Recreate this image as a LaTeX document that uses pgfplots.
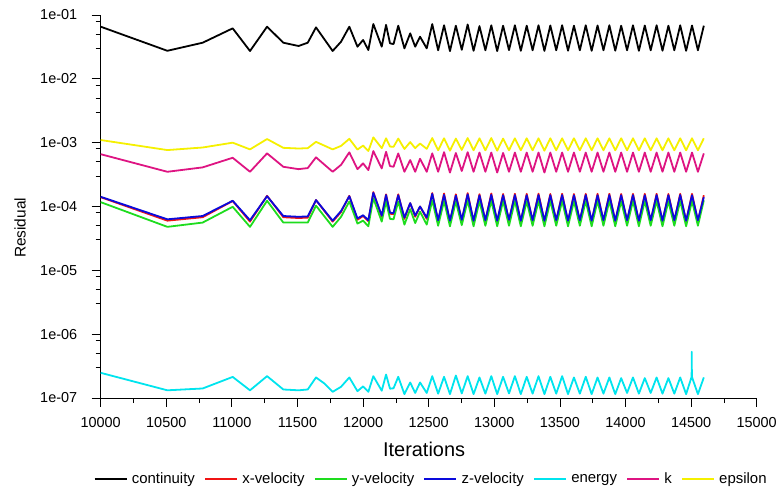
\documentclass[border=0pt]{standalone}
\usepackage{pgfplots}
\pgfplotsset{compat=1.18}
\usepackage{pgfplotstable}
\usepackage{fontspec}
\setmainfont{Liberation Sans}
\definecolor{cRed}{RGB}{240,20,20}
\definecolor{cGreen}{RGB}{30,220,30}
\definecolor{cBlue}{RGB}{10,10,220}
\definecolor{cCyan}{RGB}{0,228,238}
\definecolor{cMag}{RGB}{222,20,130}
\definecolor{cYel}{RGB}{245,240,0}

\pgfplotstableread{
it cont xvel yvel zvel kk eps
10000 0.0656 1.40e-4 1.17e-4 1.42e-4 6.6e-4 1.10e-3
10508 0.0275 6.0e-5 4.8e-5 6.3e-5 3.5e-4 7.66e-4
10777 0.0368 6.8e-5 5.6e-5 7.1e-5 4.1e-4 8.4e-4
11006 0.0618 1.22e-4 9.9e-5 1.23e-4 5.8e-4 1.0e-3
11138 0.0273 5.8e-5 4.8e-5 6.1e-5 3.5e-4 7.85e-4
11268 0.0656 1.47e-4 1.23e-4 1.45e-4 6.8e-4 1.14e-3
11392 0.0368 6.8e-5 5.6e-5 7.1e-5 4.19e-4 8.3e-4
11508 0.0327 6.6e-5 5.6e-5 6.9e-5 3.85e-4 8.1e-4
11578 0.0368 6.7e-5 5.6e-5 7.0e-5 4.0e-4 8.2e-4
11641 0.0640 1.26e-4 1.03e-4 1.26e-4 5.89e-4 1.03e-3
11768 0.0273 5.8e-5 4.8e-5 6.0e-5 3.5e-4 7.85e-4
11832 0.0382 8.2e-5 6.9e-5 8.5e-5 4.5e-4 8.9e-4
11895 0.0656 1.47e-4 1.2e-4 1.45e-4 7.05e-4 1.15e-3
11957 0.0319 6.2e-5 5.4e-5 6.5e-5 3.85e-4 7.8e-4
12000 0.0406 7.1e-5 6.0e-5 7.3e-5 4.74e-4 9.0e-4
12040 0.0283 5.9e-5 4.9e-5 6.1e-5 3.72e-4 7.4e-4
12078 0.0723 1.68e-4 1.35e-4 1.64e-4 7.38e-4 1.21e-3
12142 0.0319 6.9e-5 5.8e-5 7.2e-5 3.95e-4 8.2e-4
12175 0.0700 1.55e-4 1.2e-4 1.51e-4 7.2e-4 1.17e-3
12205 0.0360 7.7e-5 6.4e-5 8.0e-5 4.3e-4 8.7e-4
12232 0.0350 7.6e-5 6.3e-5 7.9e-5 4.19e-4 8.6e-4
12268 0.0680 1.55e-4 1.2e-4 1.5e-4 6.79e-4 1.16e-3
12315 0.0300 6.4e-5 5.2e-5 6.7e-5 3.5e-4 7.97e-4
12359 0.0516 1.13e-4 9.1e-5 1.13e-4 5.34e-4 1.02e-3
12397 0.0319 6.9e-5 5.5e-5 7.2e-5 3.5e-4 8.2e-4
12434 0.0457 1.0e-4 8.3e-5 1.0e-4 5.6e-4 9.7e-4
12485 0.0300 6.4e-5 5.2e-5 6.7e-5 3.5e-4 8.0e-4
12527 0.0720 1.62e-4 1.25e-4 1.58e-4 6.8e-4 1.18e-3
12572 0.0280 5.9e-5 5.0e-5 6.1e-5 3.5e-4 7.6e-4
12617 0.0690 1.60e-4 1.22e-4 1.52e-4 7.1e-4 1.17e-3
12662 0.0272 5.7e-5 4.9e-5 6.0e-5 3.4e-4 7.5e-4
12707 0.0680 1.55e-4 1.20e-4 1.48e-4 6.9e-4 1.16e-3
12752 0.0285 6.0e-5 5.1e-5 6.2e-5 3.6e-4 7.7e-4
12797 0.0710 1.62e-4 1.24e-4 1.55e-4 7.1e-4 1.18e-3
12842 0.0275 5.8e-5 4.9e-5 6.0e-5 3.5e-4 7.6e-4
12887 0.0670 1.56e-4 1.21e-4 1.49e-4 7.0e-4 1.17e-3
12932 0.0280 5.9e-5 5.0e-5 6.1e-5 3.5e-4 7.6e-4
12977 0.0690 1.60e-4 1.23e-4 1.52e-4 7.0e-4 1.18e-3
13022 0.0272 5.8e-5 4.9e-5 6.0e-5 3.4e-4 7.5e-4
13067 0.0680 1.57e-4 1.22e-4 1.50e-4 6.9e-4 1.16e-3
13112 0.0282 6.0e-5 5.0e-5 6.2e-5 3.5e-4 7.6e-4
13157 0.0690 1.58e-4 1.22e-4 1.51e-4 7.0e-4 1.17e-3
13202 0.0275 5.8e-5 4.9e-5 6.0e-5 3.5e-4 7.6e-4
13247 0.0680 1.58e-4 1.21e-4 1.50e-4 7.0e-4 1.17e-3
13292 0.0280 5.9e-5 5.0e-5 6.1e-5 3.5e-4 7.6e-4
13337 0.0690 1.59e-4 1.22e-4 1.51e-4 7.0e-4 1.17e-3
13382 0.0274 5.8e-5 4.9e-5 6.0e-5 3.4e-4 7.5e-4
13427 0.0685 1.57e-4 1.22e-4 1.50e-4 7.0e-4 1.17e-3
13472 0.0280 5.9e-5 5.0e-5 6.1e-5 3.5e-4 7.6e-4
13517 0.0690 1.58e-4 1.22e-4 1.51e-4 7.0e-4 1.17e-3
13562 0.0276 5.8e-5 4.9e-5 6.0e-5 3.5e-4 7.6e-4
13607 0.0680 1.57e-4 1.21e-4 1.50e-4 7.0e-4 1.17e-3
13652 0.0280 5.9e-5 5.0e-5 6.1e-5 3.5e-4 7.6e-4
13697 0.0690 1.58e-4 1.22e-4 1.51e-4 7.0e-4 1.17e-3
13742 0.0275 5.8e-5 4.9e-5 6.0e-5 3.5e-4 7.6e-4
13787 0.0685 1.58e-4 1.22e-4 1.50e-4 7.0e-4 1.17e-3
13832 0.0280 5.9e-5 5.0e-5 6.1e-5 3.5e-4 7.6e-4
13877 0.0690 1.58e-4 1.22e-4 1.51e-4 7.0e-4 1.17e-3
13922 0.0276 5.8e-5 4.9e-5 6.0e-5 3.5e-4 7.6e-4
13967 0.0680 1.57e-4 1.21e-4 1.50e-4 7.0e-4 1.17e-3
14012 0.0280 5.9e-5 5.0e-5 6.1e-5 3.5e-4 7.6e-4
14057 0.0690 1.58e-4 1.22e-4 1.51e-4 7.0e-4 1.17e-3
14102 0.0275 5.8e-5 4.9e-5 6.0e-5 3.5e-4 7.6e-4
14147 0.0685 1.58e-4 1.22e-4 1.50e-4 7.0e-4 1.17e-3
14192 0.0280 5.9e-5 5.0e-5 6.1e-5 3.5e-4 7.6e-4
14237 0.0690 1.58e-4 1.22e-4 1.51e-4 7.0e-4 1.17e-3
14282 0.0276 5.8e-5 4.9e-5 6.0e-5 3.5e-4 7.6e-4
14327 0.0680 1.57e-4 1.21e-4 1.50e-4 7.0e-4 1.17e-3
14372 0.0280 5.9e-5 5.0e-5 6.1e-5 3.5e-4 7.6e-4
14417 0.0690 1.58e-4 1.22e-4 1.51e-4 7.0e-4 1.17e-3
14462 0.0275 5.8e-5 4.9e-5 6.0e-5 3.5e-4 7.6e-4
14507 0.0685 1.58e-4 1.22e-4 1.50e-4 7.0e-4 1.17e-3
14552 0.0280 5.9e-5 5.0e-5 6.1e-5 3.5e-4 7.6e-4
14597 0.0680 1.50e-4 1.25e-4 1.40e-4 6.8e-4 1.17e-3
}\resid

\pgfplotstableread{
it en
10000 2.48e-7
10508 1.32e-7
10777 1.41e-7
11006 2.14e-7
11138 1.32e-7
11268 2.2e-7
11392 1.36e-7
11508 1.32e-7
11578 1.36e-7
11641 2.1e-7
11703 1.7e-7
11768 1.25e-7
11832 1.5e-7
11895 2.1e-7
11957 1.28e-7
12000 1.52e-7
12040 1.25e-7
12078 2.2e-7
12142 1.3e-7
12175 2.33e-7
12205 1.4e-7
12232 1.42e-7
12268 2.15e-7
12315 1.15e-7
12359 1.75e-7
12397 1.2e-7
12434 1.75e-7
12485 1.2e-7
12527 2.2e-7
12572 1.17e-7
12617 2.15e-7
12662 1.15e-7
12707 2.25e-7
12752 1.18e-7
12797 2.2e-7
12842 1.15e-7
12887 2.1e-7
12932 1.17e-7
12977 2.2e-7
13022 1.15e-7
13067 2.15e-7
13112 1.18e-7
13157 2.2e-7
13202 1.15e-7
13247 2.15e-7
13292 1.17e-7
13337 2.2e-7
13382 1.15e-7
13427 2.15e-7
13472 1.17e-7
13517 2.2e-7
13562 1.15e-7
13607 2.1e-7
13652 1.17e-7
13697 2.15e-7
13742 1.15e-7
13787 2.1e-7
13832 1.17e-7
13877 2.1e-7
13922 1.15e-7
13967 2.05e-7
14012 1.2e-7
14057 2.1e-7
14102 1.17e-7
14147 2.05e-7
14192 1.2e-7
14237 2.1e-7
14282 1.17e-7
14327 2.05e-7
14372 1.17e-7
14417 2.1e-7
14462 1.15e-7
14504 2.15e-7
14505 5.3e-7
14506 2.15e-7
14552 1.15e-7
14597 2.1e-7
}\energy

\begin{document}
\begin{tikzpicture}
\path[use as bounding box] (-100.7bp,-90bp) rectangle (678.3bp,398bp);
\begin{axis}[
  at={(0,0)}, anchor=south west,
  scale only axis, width=656bp, height=383bp,
  xmin=10000, xmax=15000,
  ymode=log, ymin=1e-7, ymax=1e-1,
  axis lines*=left,
  axis line style={line width=1bp, black},
  tick align=outside,
  major tick length=9bp, minor tick length=5bp,
  tick style={line width=0.8bp, black},
  scaled x ticks=false,
  xtick={10000,10500,11000,11500,12000,12500,13000,13500,14000,14500,15000},
  xticklabels={10000,10500,11000,11500,12000,12500,13000,13500,14000,14500,15000},
  minor xtick={10250,10750,11250,11750,12250,12750,13250,13750,14250,14750},
  ytick={1e-7,1e-6,1e-5,1e-4,1e-3,1e-2,1e-1},
  yticklabels={1e-07,1e-06,1e-05,1e-04,1e-03,1e-02,1e-01},
  minor ytick={3e-7,5e-7,8e-7,3e-6,5e-6,8e-6,3e-5,5e-5,8e-5,3e-4,5e-4,8e-4,3e-3,5e-3,8e-3,3e-2,5e-2,8e-2},
  tick label style={font=\fontsize{14.5}{16}\selectfont},
  xticklabel style={yshift=-7bp},
  yticklabel style={xshift=-11bp},
  /pgf/number format/assume math mode=true,
  xlabel={Iterations},
  ylabel={Residual},
  xlabel style={font=\fontsize{20}{22}\selectfont, at={(axis description cs:0.493,-0.133)}, anchor=center},
  ylabel style={font=\fontsize{15.5}{17}\selectfont, at={(axis description cs:-0.123,0.444)}, anchor=center},
  legend columns=-1,
  legend style={draw=none, fill=none, font=\fontsize{15}{17}\selectfont,
    at={(axis description cs:0.5035,-0.2115)}, anchor=center,
    /tikz/every odd column/.append style={column sep=2bp},
    /tikz/every even column/.append style={column sep=7bp},
    inner sep=0pt},
  legend image code/.code={\draw[#1,line width=2.4bp] (0bp,0bp) -- (32bp,0bp);},
  every axis plot/.append style={line width=1.8bp, line join=round},
]
\addplot[black] table[x=it,y=cont]{\resid};
\addlegendentry{continuity}
\addplot[cRed] table[x=it,y=xvel]{\resid};
\addlegendentry{x-velocity}
\addplot[cGreen] table[x=it,y=yvel]{\resid};
\addlegendentry{y-velocity}
\addplot[cBlue] table[x=it,y=zvel]{\resid};
\addlegendentry{z-velocity}
\addplot[cCyan] table[x=it,y=en]{\energy};
\addlegendentry{energy}
\addplot[cMag] table[x=it,y=kk]{\resid};
\addlegendentry{k}
\addplot[cYel] table[x=it,y=eps]{\resid};
\addlegendentry{epsilon}
\end{axis}
\end{tikzpicture}
\end{document}
